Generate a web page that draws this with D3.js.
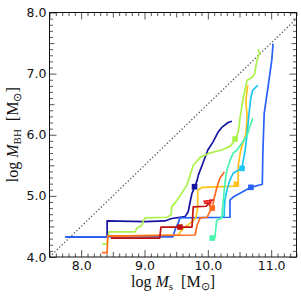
<!DOCTYPE html>
<html><head><meta charset="utf-8">
<script src="https://cdn.jsdelivr.net/npm/d3@7"></script>
<style>body{margin:0;background:#fff}svg{display:block}</style>
</head><body><svg id="c" width="301" height="301"></svg>
<script>
// ---- data ----
const xTicks = [8, 9, 10, 11];
const xTickLabels = ["8.0", "9.0", "10.0", "11.0"];
const yTicks = [4, 5, 6, 7, 8];
const yTickLabels = ["4.0", "5.0", "6.0", "7.0", "8.0"];
const oneToOne = [[7.5, 4.0], [11.4, 7.9]];

const navy = [[7.75,4.33],[8.41,4.33],[8.41,4.59],[9.01,4.58],[9.32,4.59],[9.43,4.63],[9.64,4.66],[9.69,4.74],[9.72,4.90],[9.75,5.04],[9.79,5.14],[9.83,5.25],[9.85,5.34],[9.92,5.53],[10.00,5.75],[10.08,5.88],[10.16,6.04],[10.22,6.12],[10.32,6.20],[10.38,6.22]];
const blue = [[7.75,4.33],[9.45,4.33],[9.49,4.47],[9.53,4.55],[9.56,4.64],[10.35,4.65],[10.35,4.93],[10.40,4.98],[10.68,5.14],[10.86,5.19],[10.87,5.75],[10.89,6.35],[10.95,6.78],[11.01,7.22],[11.03,7.49]];
const green = [[8.33,4.21],[8.41,4.21],[8.44,4.41],[8.85,4.41],[8.88,4.47],[8.96,4.52],[8.98,4.59],[9.01,4.64],[9.36,4.65],[9.42,4.69],[9.43,4.82],[9.50,4.91],[9.61,5.08],[9.67,5.18],[9.72,5.34],[9.77,5.50],[9.88,5.63],[10.03,5.70],[10.22,5.75],[10.35,5.81],[10.43,5.91],[10.48,6.04],[10.51,6.29],[10.56,6.61],[10.62,6.89],[10.70,6.94],[10.74,7.00],[10.76,7.13],[10.79,7.27],[10.82,7.33],[10.79,7.40]];
const yellow = [[8.42,4.34],[9.53,4.36],[9.61,4.47],[9.72,4.55],[9.81,4.64],[9.84,4.80],[9.84,5.09],[9.91,5.14],[10.44,5.16],[10.48,5.22],[10.48,5.50],[10.52,5.75],[10.60,6.01],[10.62,6.29],[10.60,6.56],[10.63,6.81]];
const orange = [[8.33,4.07],[8.41,4.07],[8.42,4.34],[9.80,4.36],[9.83,4.52],[9.88,4.64],[9.99,4.65],[10.02,4.72],[10.07,4.80],[10.10,4.96],[10.14,5.13],[10.19,5.29],[10.26,5.39]];
const darkRed = [[8.47,4.31],[9.24,4.31],[9.26,4.49],[9.75,4.49],[9.77,4.82],[9.97,4.83],[10.05,4.91]];
const red = [[9.93,4.91],[10.08,4.93],[10.03,4.93],[10.03,4.84],[10.03,4.88],[9.95,4.88],[10.06,4.89]];
const cyan = [[10.19,4.64],[10.26,4.67],[10.26,4.77],[10.27,4.93],[10.30,5.09],[10.35,5.26],[10.40,5.37],[10.48,5.42],[10.54,5.47],[10.56,5.58],[10.59,5.75],[10.62,6.02],[10.65,6.35],[10.68,6.61],[10.71,6.73],[10.79,6.81]];
const aqua = [[10.07,4.31],[10.11,4.31],[10.14,4.60],[10.22,4.64],[10.24,4.88],[10.27,5.21],[10.30,5.42],[10.35,5.58],[10.40,5.70],[10.46,5.75],[10.57,5.91],[10.63,6.02],[10.67,6.16],[10.70,6.24],[10.71,6.27]];

const markerNames = ["navy","blue","green","yellow","orange","darkRed","cyan","aqua"];
const markerX = [9.79, 10.68, 10.43, 10.45, 10.07, 9.56, 10.54, 10.07];
const markerY = [5.15, 5.14, 5.93, 5.19, 4.80, 4.49, 5.45, 4.31];

// ---- styles ----
const colors = {navy:"#1414a0", blue:"#2862f8", green:"#aaf24a", yellow:"#ffc21a", orange:"#ff6a1c", darkRed:"#c01010", red:"#e8201a", cyan:"#1cc6f2", aqua:"#48f4ae"};
const series = [["navy",navy],["blue",blue],["green",green],["yellow",yellow],["orange",orange],["darkRed",darkRed],["red",red],["cyan",cyan],["aqua",aqua]];

const svg = d3.select("#c");
const L = 49.5, R = 296.5, T = 12.5, B = 257;
const x = d3.scaleLinear([7.5, 11.4], [L, R]);
const y = d3.scaleLinear([4, 8], [B, T]);

const minorX = d3.range(75, 115).map(v => v / 10).filter(v => v % 1 !== 0 && Math.abs(v*10 % 10 - 5) > 0.01);
const halfX = d3.range(75, 115, 10).map(v => v / 10);
const minorY = d3.range(40, 81).map(v => v / 10).filter(v => Math.abs(v*10 % 10) > 0.01 && Math.abs(v*10 % 10 - 5) > 0.01);
const halfY = [4.5, 5.5, 6.5, 7.5];

function styleAxis(g) {
  g.select(".domain").remove();
  g.selectAll("line").attr("stroke", "#444").attr("stroke-width", 0.9);
  g.selectAll("text").attr("font-family", "DejaVu Sans, sans-serif").attr("font-size", 12.5).attr("fill", "#111");
}
function addAxis(gen, transform) {
  svg.append("g").attr("transform", transform).call(gen).call(styleAxis);
}
// bottom
addAxis(d3.axisBottom(x).tickValues(minorX).tickSize(-3.5).tickFormat(""), `translate(0,${B})`);
addAxis(d3.axisBottom(x).tickValues(halfX).tickSize(-5).tickFormat(""), `translate(0,${B})`);
addAxis(d3.axisBottom(x).tickValues(xTicks).tickSize(-7).tickPadding(4).tickFormat((d,i) => xTickLabels[i]), `translate(0,${B})`);
// top
addAxis(d3.axisTop(x).tickValues(minorX).tickSize(-3.5).tickFormat(""), `translate(0,${T})`);
addAxis(d3.axisTop(x).tickValues(halfX).tickSize(-5).tickFormat(""), `translate(0,${T})`);
addAxis(d3.axisTop(x).tickValues(xTicks).tickSize(-7).tickFormat(""), `translate(0,${T})`);
// left
addAxis(d3.axisLeft(y).tickValues(minorY).tickSize(-3.5).tickFormat(""), `translate(${L},0)`);
addAxis(d3.axisLeft(y).tickValues(halfY).tickSize(-5).tickFormat(""), `translate(${L},0)`);
addAxis(d3.axisLeft(y).tickValues(yTicks).tickSize(-7).tickPadding(3).tickFormat((d,i) => yTickLabels[i]), `translate(${L},0)`);
// right
addAxis(d3.axisRight(y).tickValues(minorY).tickSize(-3.5).tickFormat(""), `translate(${R},0)`);
addAxis(d3.axisRight(y).tickValues(halfY).tickSize(-5).tickFormat(""), `translate(${R},0)`);
addAxis(d3.axisRight(y).tickValues(yTicks).tickSize(-7).tickFormat(""), `translate(${R},0)`);

const line = d3.line().x(d => x(d[0])).y(d => y(d[1]));

svg.append("path").attr("d", line(oneToOne)).attr("fill", "none")
  .attr("stroke", "#555").attr("stroke-width", 1.3).attr("stroke-dasharray", "1.3,2.1");

for (const [name, data] of series) {
  svg.append("path").attr("d", line(data)).attr("fill", "none")
    .attr("stroke", colors[name]).attr("stroke-width", 1.7)
    .attr("stroke-linejoin", "round").attr("stroke-linecap", "butt");
}
svg.selectAll("rect.m").data(markerNames).join("rect").attr("class", "m")
  .attr("x", (d,i) => x(markerX[i]) - 2.8).attr("y", (d,i) => y(markerY[i]) - 2.8)
  .attr("width", 5.6).attr("height", 5.6).attr("fill", d => colors[d]);

svg.append("rect").attr("x", L).attr("y", T).attr("width", R - L).attr("height", B - T)
  .attr("fill", "none").attr("stroke", "#111").attr("stroke-width", 1);

// axis titles
const xt = svg.append("text").attr("x", (L + R) / 2).attr("y", 287).attr("text-anchor", "middle")
  .attr("font-family", "Liberation Serif, serif").attr("font-size", 16).attr("fill", "#111");
xt.append("tspan").text("log ");
xt.append("tspan").attr("font-style", "italic").text("M");
xt.append("tspan").attr("font-size", 11).attr("dy", 3).text("s");
xt.append("tspan").attr("dy", -3).text("\u2002[M");
xt.append("tspan").attr("font-size", 11).attr("dy", 3).text("\u2299");
xt.append("tspan").attr("dy", -3).text("]");

const yt = svg.append("text").attr("transform", `translate(18,${(T + B) / 2}) rotate(-90)`).attr("text-anchor", "middle")
  .attr("font-family", "Liberation Serif, serif").attr("font-size", 16).attr("fill", "#111");
yt.append("tspan").text("log ");
yt.append("tspan").attr("font-style", "italic").text("M");
yt.append("tspan").attr("font-size", 11).attr("dy", 3).text("BH");
yt.append("tspan").attr("dy", -3).text("\u2002[M");
yt.append("tspan").attr("font-size", 11).attr("dy", 3).text("\u2299");
yt.append("tspan").attr("dy", -3).text("]");
</script></body></html>
